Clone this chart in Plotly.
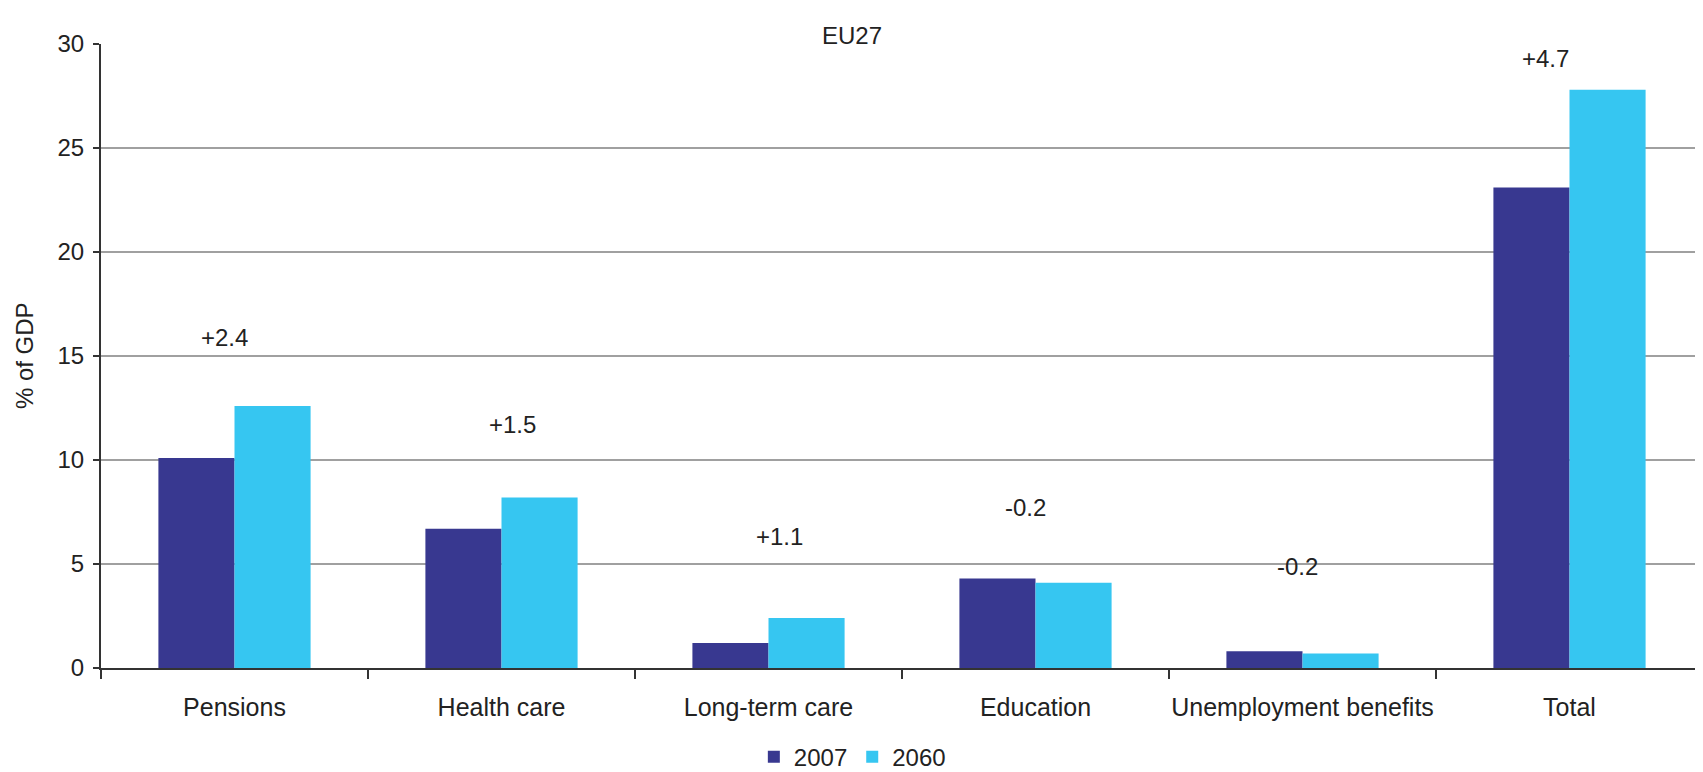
import plotly.graph_objects as go

categories = ["Pensions", "Health care", "Long-term care", "Education", "Unemployment benefits", "Total"]
values_2007 = [10.1, 6.7, 1.2, 4.3, 0.8, 23.1]
values_2060 = [12.6, 8.2, 2.4, 4.1, 0.7, 27.8]
change_labels = ["+2.4", "+1.5", "+1.1", "-0.2", "-0.2", "+4.7"]
label_y = [15.9, 11.7, 6.3, 7.7, 4.9, 29.3]
label_xshift = [-10, 11, 11, -10, -5, -24]

FONT = "Liberation Sans, Arial, sans-serif"
TXT = "#222222"
FS = 24

fig = go.Figure()
fig.add_trace(go.Bar(name="2007", x=categories, y=values_2007, marker_color="#383890", marker_line_width=0))
fig.add_trace(go.Bar(name="2060", x=categories, y=values_2060, marker_color="#36c6f1", marker_line_width=0))

for c, t, yy, xs in zip(categories, change_labels, label_y, label_xshift):
    fig.add_annotation(x=c, y=yy, text=t, showarrow=False, xshift=xs,
                       font=dict(family=FONT, size=FS, color=TXT))

fig.add_annotation(text="EU27", xref="paper", yref="paper", x=0.469, y=1.038,
                   showarrow=False, font=dict(family=FONT, size=FS, color=TXT))
fig.add_annotation(text="% of GDP", xref="paper", yref="paper", x=-0.048, y=0.5,
                   textangle=-90, showarrow=False, xanchor="center", yanchor="middle",
                   font=dict(family=FONT, size=FS, color=TXT))

fig.update_layout(
    width=1703, height=772,
    margin=dict(l=93, r=8, t=36, b=112, autoexpand=False),
    paper_bgcolor="white", plot_bgcolor="white",
    barmode="group", bargap=0.43, bargroupgap=0,
    font=dict(family=FONT, size=FS, color=TXT),
    legend=dict(orientation="h", x=0.469, xanchor="center", y=-0.143, yanchor="middle",
                font=dict(family=FONT, size=FS, color=TXT), itemwidth=30),
    xaxis=dict(showline=True, linecolor="#333333", linewidth=2, ticks="outside",
               tickson="boundaries", ticklen=9, tickcolor="#333333", tickwidth=2,
               ticklabelstandoff=16, showgrid=False, tickangle=0, automargin=False,
               tickfont=dict(family=FONT, size=25, color=TXT)),
    yaxis=dict(range=[0, 30], dtick=5, showline=True, linecolor="#333333", linewidth=2,
               ticks="outside", ticklen=6, tickcolor="#333333", tickwidth=2,
               showgrid=True, gridcolor="#a0a0a0", gridwidth=2, zeroline=False,
               ticklabelstandoff=4, automargin=False),
)

fig.write_html("out.html")
